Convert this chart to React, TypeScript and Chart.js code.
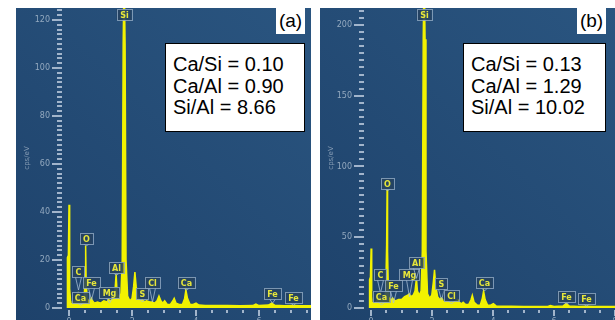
import React, { useEffect, useRef } from "react";
import { Chart, registerables } from "chart.js";
Chart.register(...registerables);

// ---------- DATA ----------
const energyA = [-0.06, -0.05, -0.02, 0.0, 0.02, 0.05, 0.1, 0.15, 0.2, 0.25, 0.28, 0.31, 0.34, 0.38, 0.43, 0.48, 0.51, 0.525, 0.54, 0.57, 0.62, 0.67, 0.705, 0.74, 0.8, 0.9, 1.0, 1.1, 1.2, 1.25, 1.3, 1.38, 1.44, 1.487, 1.52, 1.58, 1.64, 1.68, 1.71, 1.74, 1.77, 1.8, 1.85, 1.92, 1.99, 2.04, 2.08, 2.12, 2.18, 2.25, 2.31, 2.38, 2.45, 2.55, 2.62, 2.7, 2.78, 2.84, 2.9, 2.96, 3.02, 3.1, 3.2, 3.28, 3.32, 3.38, 3.48, 3.58, 3.65, 3.69, 3.74, 3.82, 3.92, 4.01, 4.1, 4.3, 4.6, 5.0, 5.4, 5.8, 5.9, 6.0, 6.3, 6.4, 6.5, 6.8, 7.06, 7.3, 7.66];
const countsA = [0, 21, 22, 43, 8, 3, 2, 2.5, 3, 5, 6, 4, 3.5, 2.5, 3, 4, 14, 26, 12, 4, 3, 3, 4, 3, 2, 2.5, 2, 3, 2.5, 3.5, 3, 3.5, 5, 14, 6, 4, 6, 20, 110, 140, 110, 20, 5, 3, 4, 9, 15, 9, 4, 3, 3.5, 2.5, 3, 2.5, 2.5, 2, 3, 5, 3, 2, 3, 1.5, 1.5, 3, 4, 2, 1.5, 1.5, 4, 7.5, 4, 1.5, 1.5, 2, 1.2, 1, 1, 1, 0.9, 1, 1.6, 1, 1.2, 2, 1.1, 0.9, 1, 0.9, 0.9];

const energyB = [-0.06, -0.05, -0.02, 0.0, 0.02, 0.05, 0.1, 0.15, 0.2, 0.25, 0.28, 0.31, 0.34, 0.38, 0.43, 0.48, 0.51, 0.525, 0.54, 0.57, 0.62, 0.67, 0.705, 0.74, 0.8, 0.9, 1.0, 1.1, 1.2, 1.25, 1.3, 1.38, 1.44, 1.487, 1.52, 1.58, 1.64, 1.68, 1.71, 1.74, 1.77, 1.8, 1.85, 1.92, 1.99, 2.04, 2.08, 2.12, 2.18, 2.25, 2.31, 2.38, 2.45, 2.55, 2.62, 2.7, 2.78, 2.84, 2.9, 2.96, 3.02, 3.1, 3.2, 3.28, 3.32, 3.38, 3.48, 3.58, 3.65, 3.69, 3.74, 3.82, 3.92, 4.01, 4.1, 4.3, 4.6, 5.0, 5.4, 5.8, 5.88, 6.0, 6.3, 6.4, 6.5, 6.8, 7.06, 7.3, 8.0];
const countsB = [0, 20, 22, 42, 8, 4, 3, 4, 6, 8, 9, 6, 6, 5, 6, 12, 45, 84, 40, 8, 6, 6, 7, 6, 5, 6, 6, 8, 9, 10, 8, 9, 12, 21, 12, 9, 12, 40, 190, 240, 190, 40, 10, 7, 9, 18, 27, 16, 8, 6, 7, 5, 5, 4.5, 4, 4, 5, 6, 4, 3, 4, 2.5, 2.5, 6, 9, 4, 2, 2, 7, 12, 6, 2, 2, 3, 1.5, 1.2, 1.2, 1.1, 1.0, 1.1, 1.8, 1.1, 1.5, 3, 1.5, 1.0, 1.2, 1.0, 1.0];

// peak labels (element, line energy keV)
const peakNames = ["Si", "O", "C", "Ca", "Fe", "Mg", "Al", "S", "Cl", "Ca", "Fe", "Fe"];
const peakEnergies = [1.74, 0.525, 0.277, 0.341, 0.705, 1.254, 1.487, 2.308, 2.622, 3.69, 6.4, 7.06];
// label box bottom / pointer tip (cps/eV)
const peakBoxA = [120, 26.7, 12.9, 2.1, 8.3, 4.2, 14.6, 3.75, 8.3, 8.3, 3.75, 2.1];
const peakTipA = [120, 26, 7.5, 1.2, 3.3, 2, 13.7, 2.5, 2.5, 7.5, 2, 1.2];
const peakBoxB = [203.5, 84, 19.8, 4.2, 12, 19.8, 28.3, 13.4, 4.9, 14.1, 4.2, 2.8];
const peakTipB = [203.5, 83, 10.6, 2, 3.5, 7.8, 21, 5.6, 2.8, 12, 2.8, 1.4];

const yTicksA = [0, 20, 40, 60, 80, 100, 120];
const yTicksB = [0, 50, 100, 150, 200];
const xTickLabels = [0, 2, 4, 6, 8];

const ratiosA = ["Ca/Si = 0.10", "Ca/Al = 0.90", "Si/Al = 8.66"];
const ratiosB = ["Ca/Si = 0.13", "Ca/Al = 1.29", "Si/Al = 10.02"];
const tagA = "(a)";
const tagB = "(b)";
const yTitle = "cps/eV";

// ---------- COMPONENTS ----------
type PanelProps = {
  left: number;
  energies: number[];
  counts: number[];
  xMin: number;
  xMax: number;
  yMax: number;
  yTicks: number[];
  yMinorStep: number;
  boxVals: number[];
  tipVals: number[];
  padLeft: number;
};

function SpectrumPanel(p: PanelProps) {
  const ref = useRef<HTMLCanvasElement | null>(null);
  useEffect(() => {
    if (!ref.current) return;
    const points = p.energies.map((e, i) => ({ x: e, y: p.counts[i] }));
    const decor = {
      id: "edsDecor",
      beforeDraw(chart: any) {
        const ctx = chart.ctx;
        const w = chart.width, h = chart.height;
        const g = ctx.createLinearGradient(0, h, w, 0);
        g.addColorStop(0, "#1e426b");
        g.addColorStop(1, "#2a5580");
        ctx.save();
        ctx.fillStyle = g;
        ctx.fillRect(0, 0, w, h);
        ctx.restore();
      },
      afterDatasetsDraw(chart: any) {
        const ctx = chart.ctx;
        const xs = chart.scales.x, ys = chart.scales.y;
        const area = chart.chartArea;
        ctx.save();
        // y ticks
        ctx.fillStyle = "rgba(185,200,218,0.85)";
        for (let v = 0; v <= p.yMax + 1e-9; v += p.yMinorStep) {
          const py = Math.round(ys.getPixelForValue(v));
          const major = p.yTicks.some((t) => Math.abs(t - v) < 1e-6);
          const len = major ? 10 : 5;
          ctx.fillRect(area.left - 1 - len, py - 1, len, 2);
        }
        ctx.font = "8px 'DejaVu Sans'";
        ctx.textAlign = "right";
        ctx.textBaseline = "middle";
        ctx.fillStyle = "rgba(160,180,200,0.9)";
        p.yTicks.forEach((t) => {
          ctx.fillText(String(t), area.left - 13, ys.getPixelForValue(t));
        });
        // x ticks
        ctx.fillStyle = "rgba(185,200,218,0.85)";
        for (let v = 0; v <= p.xMax + 1e-9; v += 0.5) {
          const px = Math.round(xs.getPixelForValue(v));
          const major = xTickLabels.some((t) => Math.abs(t - v) < 1e-6);
          const len = major ? 6 : 3;
          ctx.fillRect(px - 1, area.bottom + 2, 2, len);
        }
        ctx.textAlign = "center";
        ctx.textBaseline = "top";
        ctx.fillStyle = "rgba(160,180,200,0.9)";
        xTickLabels.forEach((t) => {
          if (t <= p.xMax) ctx.fillText(String(t), xs.getPixelForValue(t), area.bottom + 10);
        });
        // y title
        ctx.save();
        ctx.translate(11, 150);
        ctx.rotate(-Math.PI / 2);
        ctx.font = "7px 'DejaVu Sans'";
        ctx.textAlign = "center";
        ctx.textBaseline = "middle";
        ctx.fillStyle = "rgba(150,170,192,0.85)";
        ctx.fillText(yTitle, 0, 0);
        ctx.restore();
        // peak labels
        ctx.font = "bold 8px 'DejaVu Sans'";
        peakNames.forEach((name, i) => {
          const cx = Math.round(xs.getPixelForValue(peakEnergies[i]));
          const by = Math.round(ys.getPixelForValue(p.boxVals[i]));
          const ty = ys.getPixelForValue(p.tipVals[i]);
          const tw = ctx.measureText(name).width;
          const bw = Math.round(tw + 6);
          const bh = 11;
          if (ty - by > 1) {
            ctx.strokeStyle = "rgba(170,192,215,0.75)";
            ctx.lineWidth = 1;
            ctx.beginPath();
            ctx.moveTo(cx - 2.5, by);
            ctx.lineTo(cx + 0.5, ty);
            ctx.lineTo(cx + 3.5, by);
            ctx.stroke();
          }
          const bx = cx - bw / 2;
          ctx.fillStyle = "rgba(38,66,96,0.88)";
          ctx.fillRect(bx, by - bh, bw, bh);
          ctx.strokeStyle = "rgba(140,165,190,0.85)";
          ctx.lineWidth = 1;
          ctx.strokeRect(Math.round(bx) + 0.5, by - bh + 0.5, bw, bh);
          ctx.fillStyle = "#e6e63a";
          ctx.textAlign = "center";
          ctx.textBaseline = "middle";
          ctx.fillText(name, cx + 0.5, by - bh / 2 + 1);
        });
        ctx.restore();
      },
    };
    const chart = new Chart(ref.current, {
      type: "line",
      data: {
        datasets: [
          {
            data: points,
            borderColor: "#f2f200",
            backgroundColor: "#f2f200",
            borderWidth: 1.5,
            pointRadius: 0,
            fill: "origin",
            tension: 0,
          },
        ],
      },
      options: {
        animation: false,
        responsive: false,
        maintainAspectRatio: false,
        events: [],
        layout: { padding: { left: p.padLeft, right: 0, top: 0, bottom: 12 } },
        plugins: { legend: { display: false }, tooltip: { enabled: false } },
        scales: {
          x: { type: "linear", min: p.xMin, max: p.xMax, display: false },
          y: { type: "linear", min: 0, max: p.yMax, display: false },
        },
      },
      plugins: [decor],
    } as any);
    return () => chart.destroy();
  }, []);
  return (
    <canvas
      ref={ref}
      width={295}
      height={312}
      style={{ position: "absolute", left: p.left, top: 8, width: 295, height: 312 }}
    />
  );
}

function RatioBox({ left, width, lines }: { left: number; width: number; lines: string[] }) {
  return (
    <div
      style={{
        position: "absolute",
        left,
        top: 43,
        width,
        height: 89,
        boxSizing: "border-box",
        background: "#fff",
        border: "1px solid #000",
        padding: "10px 0 0 7px",
        fontFamily: "'Liberation Sans', Arial, sans-serif",
        fontSize: 20,
        lineHeight: "21.5px",
        color: "#000",
        whiteSpace: "nowrap",
      }}
    >
      {lines.map((l, i) => (
        <div key={i}>{l}</div>
      ))}
    </div>
  );
}

function Tag({ left, text }: { left: number; text: string }) {
  return (
    <div
      style={{
        position: "absolute",
        left,
        top: 8,
        width: 29,
        height: 26,
        background: "#fff",
        fontFamily: "'Liberation Sans', Arial, sans-serif",
        fontSize: 19,
        lineHeight: "26px",
        textAlign: "center",
        color: "#000",
      }}
    >
      {text}
    </div>
  );
}

export default function App() {
  return (
    <div
      style={{
        position: "fixed",
        left: 0,
        top: 0,
        width: 615,
        height: 320,
        background: "#fff",
        overflow: "hidden",
      }}
    >
      <SpectrumPanel
        left={16}
        energies={energyA}
        counts={countsA}
        xMin={-0.19}
        xMax={7.64}
        yMax={125}
        yTicks={yTicksA}
        yMinorStep={2}
        boxVals={peakBoxA}
        tipVals={peakTipA}
        padLeft={47}
      />
      <SpectrumPanel
        left={320}
        energies={energyB}
        counts={countsB}
        xMin={-0.2}
        xMax={8.0}
        yMax={212}
        yTicks={yTicksB}
        yMinorStep={5}
        boxVals={peakBoxB}
        tipVals={peakTipB}
        padLeft={45}
      />
      <RatioBox left={165} width={140} lines={ratiosA} />
      <RatioBox left={463} width={143} lines={ratiosB} />
      <Tag left={276} text={tagA} />
      <Tag left={577} text={tagB} />
    </div>
  );
}
